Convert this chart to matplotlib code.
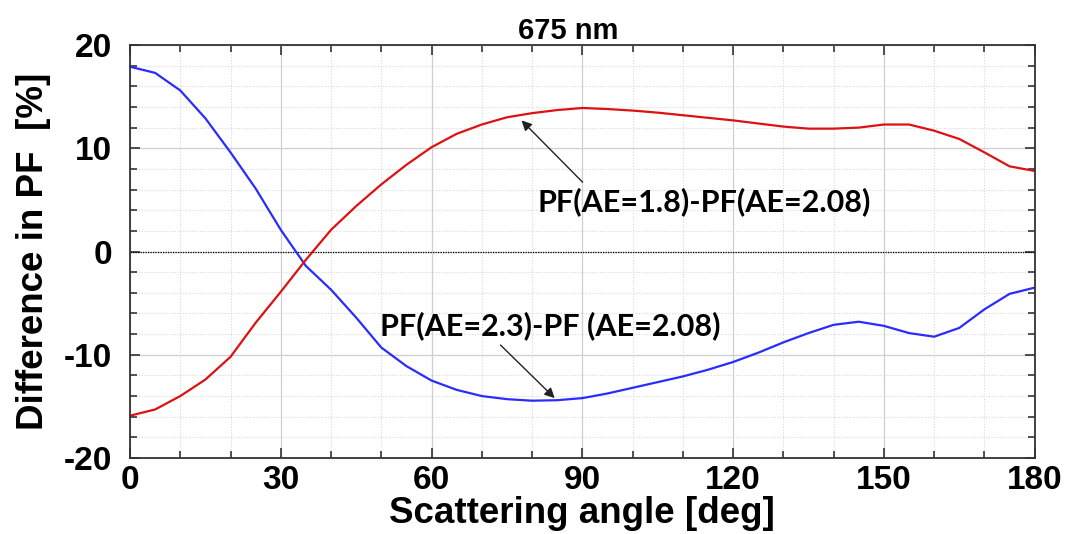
import matplotlib
matplotlib.use("Agg")
import matplotlib.pyplot as plt
import numpy as np
from matplotlib.ticker import MultipleLocator

plt.rcParams["axes.unicode_minus"] = False

# values, every 5 degrees
angle = np.arange(0, 181, 5)
pf_18 = [-15.9, -15.3, -14.0, -12.4, -10.2, -6.9, -3.9, -0.8, 2.1, 4.4,
         6.5, 8.4, 10.1, 11.4, 12.3, 13.0, 13.4, 13.7, 13.9, 13.8,
         13.65, 13.45, 13.2, 12.95, 12.7, 12.4, 12.1, 11.9, 11.9, 12.0,
         12.3, 12.3, 11.7, 10.9, 9.6, 8.25, 7.8]
pf_23 = [17.9, 17.3, 15.6, 12.9, 9.6, 6.1, 2.1, -1.4, -3.7, -6.4,
         -9.3, -11.1, -12.5, -13.4, -14.0, -14.3, -14.45, -14.4, -14.2, -13.75,
         -13.2, -12.65, -12.1, -11.45, -10.7, -9.8, -8.8, -7.9, -7.1, -6.8,
         -7.2, -7.9, -8.25, -7.4, -5.6, -4.1, -3.5]

label_18 = "PF(AE=1.8)-PF(AE=2.08)"
label_23 = "PF(AE=2.3)-PF (AE=2.08)"

ARIAL = "Liberation Sans"
CALIBRI = "Lato"

fig = plt.figure(figsize=(10.7, 5.34), dpi=100)
ax = fig.add_axes([0.1215, 0.1423, 0.8455, 0.7734])

ax.plot(angle, pf_23, color="#2b2bff", lw=1.6)
ax.plot(angle, pf_18, color="#dd1111", lw=1.6)
ax.axhline(0, color="black", lw=0.9, ls=(0, (1, 1)), zorder=1)

ax.set_xlim(0, 180)
ax.set_ylim(-20, 20)
ax.xaxis.set_major_locator(MultipleLocator(30))
ax.xaxis.set_minor_locator(MultipleLocator(10))
ax.yaxis.set_major_locator(MultipleLocator(10))
ax.yaxis.set_minor_locator(MultipleLocator(2))
ax.grid(which="major", color="#cfcfcf", lw=0.9, ls="-")
ax.grid(which="minor", color="#d8d8d8", lw=0.8, ls=(0, (1, 1.5)))
ax.set_axisbelow(True)
ax.tick_params(which="both", direction="in", top=True, right=True,
               width=1.2, color="#333333")
ax.tick_params(which="major", length=7)
ax.tick_params(which="minor", length=5)
ax.tick_params(axis="x", pad=5)
ax.tick_params(axis="y", pad=13)
for s in ax.spines.values():
    s.set_linewidth(1.3)
    s.set_color("#333333")

for t in ax.get_xticklabels() + ax.get_yticklabels():
    t.set_fontfamily(ARIAL)
    t.set_fontweight("bold")
    t.set_fontsize(24)

ax.set_xlabel("Scattering angle [deg]", family=ARIAL, weight="bold",
              fontsize=26.5, labelpad=0)
ax.set_ylabel("Difference in PF  [%]", family=ARIAL, weight="bold",
              fontsize=26.5, labelpad=9)
ax.set_title("675 nm", family=ARIAL, weight="bold", fontsize=21, pad=4,
             x=0.4845)

ax.annotate(label_18, xy=(77.9, 12.7), xytext=(114.2, 4.85),
            ha="center", va="center", family=CALIBRI, weight="bold",
            fontsize=22,
            arrowprops=dict(arrowstyle="-|>", color="#222222", lw=1.0,
                            mutation_scale=15, shrinkA=2, shrinkB=0,
                            relpos=(0.15, 1.0)))
ax.annotate(label_23, xy=(84.5, -14.2), xytext=(83.6, -7.2),
            ha="center", va="center", family=CALIBRI, weight="bold",
            fontsize=22,
            arrowprops=dict(arrowstyle="-|>", color="#222222", lw=1.0,
                            mutation_scale=15, shrinkA=2, shrinkB=0,
                            relpos=(0.34, 0.0)))

fig.savefig("out.png", dpi=100)
